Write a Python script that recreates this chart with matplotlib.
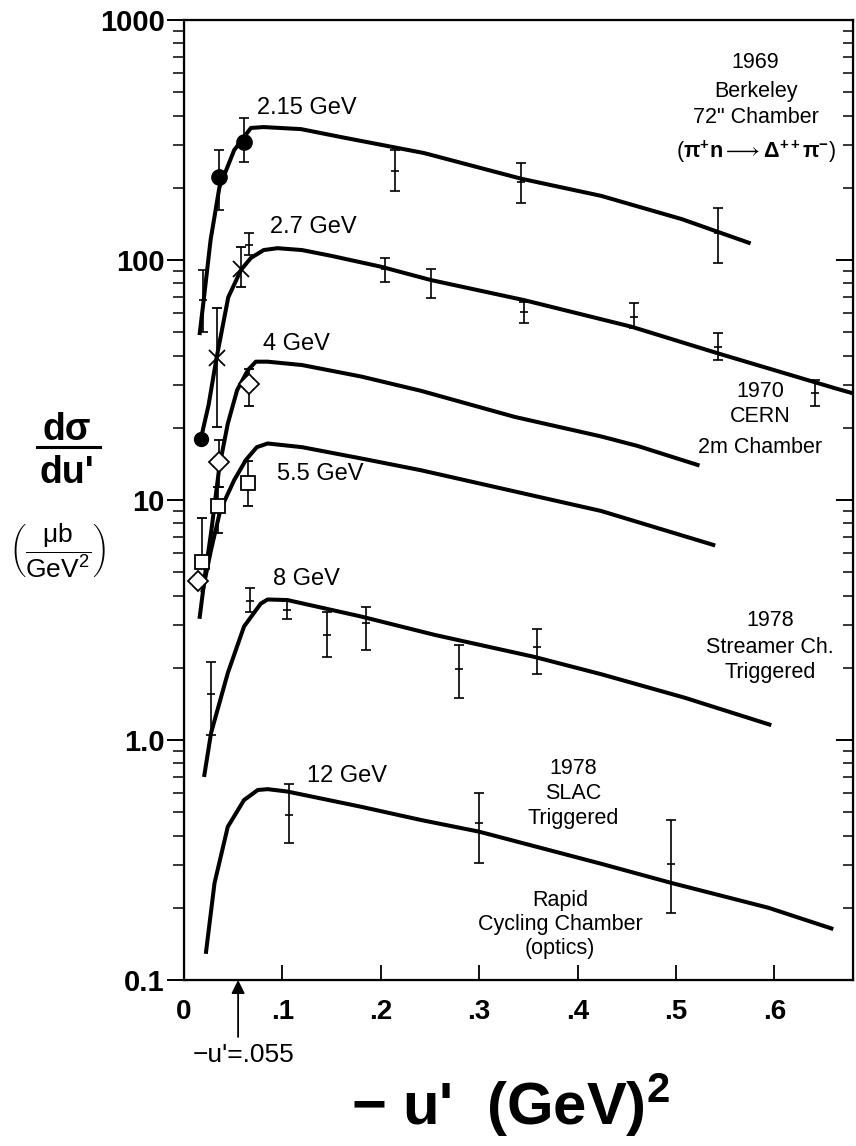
import matplotlib
matplotlib.use('Agg')
import matplotlib.pyplot as plt
from matplotlib.lines import Line2D
from matplotlib.ticker import NullFormatter

plt.rcParams['font.family'] = ['Liberation Sans', 'DejaVu Sans']
plt.rcParams['mathtext.fontset'] = 'custom'
plt.rcParams['mathtext.rm'] = 'Liberation Sans'
plt.rcParams['mathtext.it'] = 'Liberation Sans:italic'
plt.rcParams['mathtext.bf'] = 'Liberation Sans:bold'
plt.rcParams['mathtext.sf'] = 'Liberation Sans'

# ---- theory curves, -u' in GeV^2 vs dsigma/du' in mub/GeV^2 ----
u_215 = [0.016, 0.020, 0.027, 0.036, 0.051, 0.068, 0.081, 0.119, 0.160, 0.244, 0.343, 0.424, 0.506, 0.574]
s_215 = [49.6, 68, 121, 201, 287, 355, 358, 351, 325, 279, 218, 185, 148, 118]

u_27 = [0.017, 0.025, 0.033, 0.045, 0.058, 0.068, 0.081, 0.095, 0.12, 0.15, 0.2, 0.251, 0.346, 0.455, 0.543, 0.662, 0.679]
s_27 = [17.9, 24.9, 38.9, 70, 91, 102, 110, 112, 110, 104, 93.8, 82.5, 68, 52.7, 40.8, 29.2, 27.9]

u_4 = [0.016, 0.022, 0.0275, 0.036, 0.0445, 0.054, 0.065, 0.073, 0.085, 0.12, 0.18, 0.241, 0.336, 0.424, 0.461, 0.522]
s_4 = [3.26, 5.1, 7.3, 13.8, 20.8, 28.7, 34.8, 37.7, 37.7, 36.5, 32.7, 28.5, 22.2, 18.4, 16.8, 14.0]

u_55 = [0.019, 0.0275, 0.037, 0.051, 0.063, 0.074, 0.085, 0.12, 0.18, 0.241, 0.424, 0.538]
s_55 = [4.2, 6.2, 9.1, 12.1, 14.7, 16.6, 17.2, 16.6, 14.9, 13.3, 9.0, 6.5]

u_8 = [0.0207, 0.0275, 0.0445, 0.061, 0.078, 0.085, 0.105, 0.18, 0.255, 0.356, 0.424, 0.509, 0.595]
s_8 = [0.715, 1.07, 1.9, 2.97, 3.7, 3.85, 3.83, 3.27, 2.74, 2.22, 1.88, 1.5, 1.16]

u_12 = [0.0224, 0.031, 0.0445, 0.061, 0.075, 0.085, 0.105, 0.18, 0.241, 0.30, 0.424, 0.495, 0.594, 0.658]
s_12 = [0.131, 0.253, 0.435, 0.562, 0.619, 0.624, 0.61, 0.527, 0.464, 0.415, 0.305, 0.254, 0.2, 0.164]

# ---- data points ----
# 1969 Berkeley, 2.15 GeV (filled circles)
u_bk = [0.036, 0.061]
s_bk = [222, 311]
lo_bk = [161, 257]
hi_bk = [287, 389]
u_bk0, s_bk0 = [0.0173], [17.9]
# Berkeley points drawn as bars only
u_bkb = [0.019, 0.214, 0.343, 0.543]
s_bkb = [68, 234, 212, 129]
lo_bkb = [50, 193, 172, 97]
hi_bkb = [91, 287, 253, 164]

# 2.7 GeV crosses and bars
u_x = [0.0333, 0.058]
s_x = [38.9, 92]
lo_x = [20.2, 77.5]
hi_x = [63, 113]
u_27e = [0.066, 0.204, 0.251, 0.346, 0.457, 0.543, 0.641]
s_27e = [115, 92, 82.5, 60.5, 58, 43.6, 27.9]
lo_27e = [105, 81.3, 69.2, 54.4, 51.9, 38.3, 24.6]
hi_27e = [129, 101.6, 91.4, 67, 65.9, 49.6, 31.6]

# 4 GeV diamonds
u_d = [0.036, 0.066]
s_d = [14.4, 30.4]
lo_d = [11.3, 24.6]
hi_d = [17.8, 35]
u_d0, s_d0 = [0.0146], [4.6]

# 5.5 GeV squares
u_sq = [0.018, 0.035, 0.065]
s_sq = [5.5, 9.4, 11.8]
lo_sq = [5.5, 7.3, 9.4]
hi_sq = [8.4, 11.3, 14.5]

# 8 GeV streamer chamber
u_8e = [0.0275, 0.067, 0.105, 0.145, 0.185, 0.280, 0.359]
s_8e = [1.55, 3.8, 3.48, 2.74, 3.06, 1.97, 2.43]
lo_8e = [1.05, 3.4, 3.2, 2.22, 2.37, 1.49, 1.88]
hi_8e = [2.12, 4.3, 3.8, 3.43, 3.59, 2.49, 2.9]

# 12 GeV SLAC
u_12e = [0.1065, 0.300, 0.495]
s_12e = [0.487, 0.45, 0.305]
lo_12e = [0.371, 0.306, 0.19]
hi_12e = [0.653, 0.60, 0.465]

W, H = 856, 1146
fig = plt.figure(figsize=(W / 100, H / 100), dpi=100)
ax = fig.add_axes([184 / W, 1 - 980 / H, (853 - 184) / W, (980 - 20) / H])
ax.set_yscale('log')
ax.set_xlim(0, 0.68)
ax.set_ylim(0.1, 1000)

for u, s in [(u_215, s_215), (u_27, s_27), (u_4, s_4), (u_55, s_55), (u_8, s_8), (u_12, s_12)]:
    ax.plot(u, s, color='black', lw=2.9, solid_joinstyle='round', zorder=3)


def bars(u, s, lo, hi, fmt, **kw):
    err = [[c - l for c, l in zip(s, lo)], [h - c for c, h in zip(s, hi)]]
    ax.errorbar(u, s, yerr=err, fmt=fmt, color='black', ecolor='black',
                elinewidth=1.2, capsize=3.5, capthick=1.2, zorder=4, **kw)


bars(u_bk, s_bk, lo_bk, hi_bk, 'o', ms=11)
ax.plot(u_bk0, s_bk0, 'o', color='black', ms=10, zorder=4)
bars(u_bkb, s_bkb, lo_bkb, hi_bkb, '_', ms=6, mew=1.2)
bars(u_x, s_x, lo_x, hi_x, 'x', ms=12, mew=1.3)
bars(u_27e, s_27e, lo_27e, hi_27e, '_', ms=6, mew=1.2)
bars(u_d, s_d, lo_d, hi_d, 'D', ms=10, mfc='white', mew=1.3)
ax.plot(u_d0, s_d0, 'D', color='black', mfc='white', ms=10, mew=1.3, zorder=4)
bars(u_sq, s_sq, lo_sq, hi_sq, 's', ms=10, mfc='white', mew=1.3)
bars(u_8e, s_8e, lo_8e, hi_8e, '_', ms=6, mew=1.2)
bars(u_12e, s_12e, lo_12e, hi_12e, '_', ms=6, mew=1.2)

# axes styling
for sp in ax.spines.values():
    sp.set_linewidth(1.6)
ax.set_yticks([0.1, 1, 10, 100, 1000])
ax.set_yticklabels(['0.1', '1.0', '10', '100', '1000'], fontsize=21, fontweight='bold')
ax.yaxis.set_minor_formatter(NullFormatter())
ax.tick_params(axis='y', which='major', direction='out', length=12, width=1.4, pad=2, right=False)
ax.tick_params(axis='y', which='minor', direction='out', length=8, width=1.1, right=False)
ax.set_xticks([0, 0.1, 0.2, 0.3, 0.4, 0.5, 0.6])
ax.set_xticklabels(['0', '.1', '.2', '.3', '.4', '.5', '.6'], fontsize=20, fontweight='bold')
ax.tick_params(axis='x', direction='in', length=11, width=1.3, pad=14, top=False)

ax2 = ax.twinx()
ax2.set_yscale('log')
ax2.set_ylim(0.1, 1000)
ax2.yaxis.set_minor_formatter(NullFormatter())
ax2.tick_params(axis='y', which='major', direction='in', length=12, width=1.4, labelright=False)
ax2.tick_params(axis='y', which='minor', direction='in', length=7, width=1.1)

# energy labels
lab = dict(fontsize=17, ha='left', va='center')
ax.text(0.0743, 430, '2.15 GeV', **lab)
ax.text(0.0875, 137, '2.7 GeV', **lab)
ax.text(0.080, 44.7, '4 GeV', **lab)
ax.text(0.0946, 12.8, '5.5 GeV', **lab)
ax.text(0.0905, 4.69, '8 GeV', **lab)
ax.text(0.125, 0.708, '12 GeV', **lab)

# experiment labels
ex = dict(fontsize=15.5, ha='center', va='center')
ax.text(0.581, 662, '1969', **ex)
ax.text(0.581, 506, 'Berkeley', **ex)
ax.text(0.581, 394, '72" Chamber', **ex)
ax.text(0.581, 282, r'($\mathbf{\pi^{+}n} \longrightarrow \mathbf{\Delta^{++}\pi^{-}}$)', **ex)
ax.text(0.586, 28.2, '1970', **ex)
ax.text(0.586, 22.2, 'CERN', **ex)
ax.text(0.586, 16.6, '2m Chamber', **ex)
ax.text(0.596, 3.16, '1978', **ex)
ax.text(0.596, 2.44, 'Streamer Ch.', **ex)
ax.text(0.596, 1.92, 'Triggered', **ex)
ax.text(0.396, 0.764, '1978', **ex)
ax.text(0.396, 0.601, 'SLAC', **ex)
ax.text(0.396, 0.473, 'Triggered', **ex)
ax.text(0.3825, 0.215, 'Rapid', **ex)
ax.text(0.3825, 0.170, 'Cycling Chamber', **ex)
ax.text(0.3825, 0.135, '(optics)', **ex)

# arrow marking -u' = .055
ax.annotate('', xy=(0.055, 0.1), xytext=(0, -41), textcoords='offset points',
            arrowprops=dict(arrowstyle='-|>', color='black', lw=1.3, mutation_scale=20,
                            shrinkA=0, shrinkB=0), annotation_clip=False)
fig.text(244 / W, 1 - 1055 / H, "\u2212u'=.055", fontsize=19, ha='center', va='center')

# axis titles
fig.text(510 / W, 1 - 1105 / H, "\u2212 u'  (GeV)$\\mathbf{^{2}}$", fontsize=43,
         fontweight='bold', ha='center', va='center')
fig.text(67 / W, 1 - 440 / H, "d\u03c3", fontsize=27, fontweight='bold', ha='center', va='baseline')
fig.add_artist(Line2D([37 / W, 100 / W], [1 - 447 / H, 1 - 447 / H], color='black', lw=2.2))
fig.text(67 / W, 1 - 483 / H, "du'", fontsize=27, fontweight='bold', ha='center', va='baseline')
fig.text(58 / W, 1 - 551 / H, r'$\left(\dfrac{\mathsf{\mu b}}{\mathsf{GeV^{2}}}\right)$',
         fontsize=19, ha='center', va='center')

fig.savefig('out.png', dpi=100)
